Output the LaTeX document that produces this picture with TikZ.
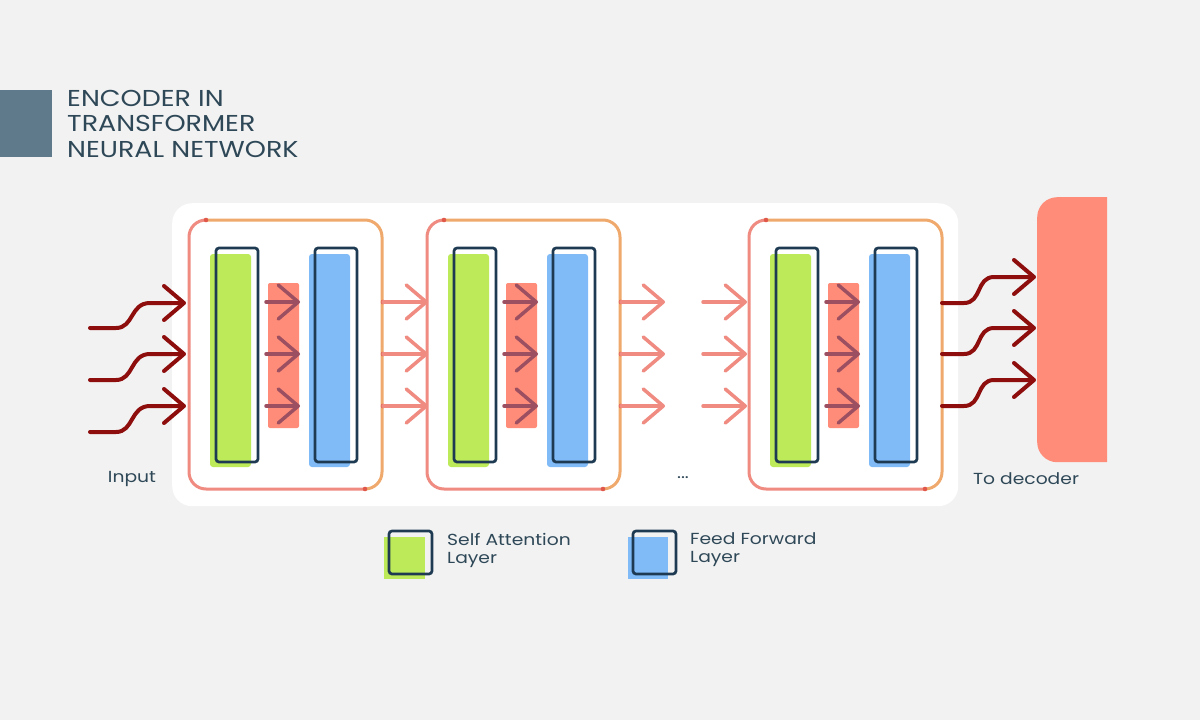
\documentclass[tikz,border=0pt]{standalone}
\usepackage{fontspec}
\setmainfont{Poppins}
\newfontfamily\widefont[FakeStretch=1.17]{Poppins}
\usetikzlibrary{arrows.meta}
\definecolor{bg}{HTML}{F2F2F2}
\definecolor{slate}{HTML}{5F7A8B}
\definecolor{ink}{HTML}{2F4858}
\definecolor{salmonl}{HTML}{EF8B80}
\definecolor{orangel}{HTML}{F0A96C}
\definecolor{dotred}{HTML}{E0584A}
\definecolor{lgreen}{HTML}{BCEA58}
\definecolor{lblue}{HTML}{80BBF7}
\definecolor{outl}{HTML}{1E3A52}
\definecolor{salfill}{HTML}{FF8C78}
\definecolor{innerar}{HTML}{9C4F60}
\definecolor{darkred}{HTML}{8E0D0D}
\tikzset{
  chev/.style={-{Straight Barb[length=20pt,width=34pt,line cap=round,line join=round]}},
  inarrow/.style={chev, draw=darkred, line width=4pt, line cap=round},
  midarrow/.style={chev, draw=salmonl, line width=3.5pt, line cap=round},
  innerarrow/.style={chev, draw=innerar, line width=3.5pt, line cap=round},
  salline/.style={draw=salmonl, line width=3pt, rounded corners=17pt},
  orline/.style={draw=orangel, line width=3pt, rounded corners=17pt},
  layerout/.style={draw=outl, line width=2.7pt, rounded corners=3pt},
  lbl/.style={text=ink, font=\widefont\fontsize{16}{18}\selectfont, inner sep=0pt},
}
\begin{document}
\begin{tikzpicture}[x=1pt,y=-1pt]
\fill[bg] (0,0) rectangle (1200,720);
\useasboundingbox (0,0) rectangle (1200,720);
% title
\node[fill=slate, minimum width=52pt, minimum height=67pt, inner sep=0pt, anchor=north west] (tbar) at (0,90) {};
\node[anchor=north west, text=ink, align=left, inner sep=0pt, font=\widefont\fontsize{23}{25.5}\selectfont] (title) at (67,90) {ENCODER IN\\TRANSFORMER\\NEURAL NETWORK};
% white panel
\node[fill=white, rounded corners=20pt, minimum width=786pt, minimum height=303pt, inner sep=0pt, anchor=north west] (panel) at (172,203) {};
% encoder boxes
\foreach \i/\dx in {1/0,2/238,3/560}{
  \begin{scope}[shift={(\dx,0)}]
    \node[minimum width=193pt, minimum height=269pt, inner sep=0pt] (enc\i) at (285.5,354.5) {};
    \draw[salline] (206,220) -- (189,220) -- (189,489) -- (365,489);
    \draw[orline] (365,489) -- (382,489) -- (382,220) -- (206,220);
    \fill[dotred] (206,220) circle (2.3pt) (365,489) circle (2.3pt);
    \fill[lgreen, rounded corners=3pt] (210,254) rectangle (251,467);
    \node[layerout, minimum width=42pt, minimum height=214pt, inner sep=0pt] (sa\i) at (237,355) {};
    \fill[salfill, rounded corners=2pt] (268,283) rectangle (299,428);
    \fill[lblue, rounded corners=3pt] (309,254) rectangle (350,467);
    \node[layerout, minimum width=42pt, minimum height=214pt, inner sep=0pt] (ff\i) at (336,355) {};
    \foreach \y in {302,354,406}{
      \draw[innerarrow] (266,\y) -- (300,\y);
    }
  \end{scope}
}
% arrows between boxes
\foreach \y in {302,354,406}{
  \fill[dotred] (383,\y) circle (2.3pt) (621,\y) circle (2.3pt);
  \draw[midarrow] (383,\y) -- (428,\y);
  \draw[midarrow] (621,\y) -- (665,\y);
  \draw[midarrow] (703,\y) -- (747,\y);
}
% input arrows
\foreach \a/\b in {328/303,380/354,432/406}{
  \draw[inarrow] (90,\a) -- (116,\a) .. controls (134,\a) and (130,\b) .. (150,\b) -- (186,\b);
}
% decoder
\begin{scope}
  \clip (1000,150) rectangle (1107,520);
  \node[fill=salfill, rounded corners=20pt, minimum width=110pt, minimum height=265pt, inner sep=0pt, anchor=north west] (dec) at (1037,197) {};
\end{scope}
% output arrows
\foreach \a/\b in {303/277,354/328,406/380}{
  \draw[inarrow] (942,\a) -- (964,\a) .. controls (982,\a) and (976,\b) .. (994,\b) -- (1036,\b);
}
% labels
\node[lbl] (inp) at (132,479) {Input};
\node[lbl] (todec) at (1026,479) {To decoder};
\node[lbl] (dots) at (683,478) {...};
% legend
\fill[lgreen] (384,537) rectangle (425,579);
\node[layerout, minimum width=43pt, minimum height=43pt, inner sep=0pt] (lgsa) at (410.5,552.5) {};
\node[lbl, anchor=west, align=left] (lgsat) at (447,550) {Self Attention\\Layer};
\fill[lblue] (628,537) rectangle (668,579);
\node[layerout, minimum width=43pt, minimum height=43pt, inner sep=0pt] (lgff) at (654.5,552.5) {};
\node[lbl, anchor=west, align=left] (lgfft) at (690,550) {Feed Forward\\Layer};
\end{tikzpicture}
\end{document}
